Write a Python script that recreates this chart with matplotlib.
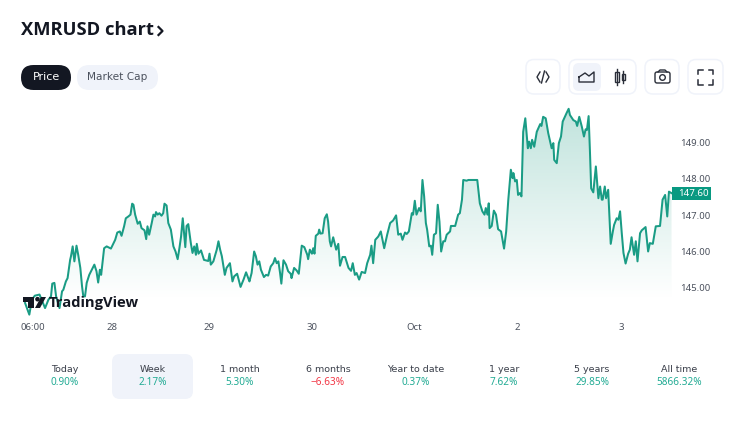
import numpy as np
import matplotlib
matplotlib.use("Agg")
import matplotlib.pyplot as plt
from matplotlib.colors import LinearSegmentedColormap
from matplotlib.patches import FancyBboxPatch, Polygon, Rectangle, Circle

# hours along the chart and XMR price
hours = [
    5.9, 6.9, 7.5, 8.2, 9.3, 9.8, 10.6, 11.4, 12.0, 12.3,
    12.8, 13.2, 14.0, 14.6, 14.9, 15.5, 15.9, 16.5, 16.7, 17.1,
    17.5, 18.0, 18.4, 18.9, 19.3, 19.6, 20.0, 20.4, 21.0, 21.6,
    22.2, 22.7, 23.1, 23.5, 23.8, 24.5, 25.1, 26.1, 27.1, 27.6,
    28.2, 28.6, 29.2, 29.6, 30.2, 30.7, 31.1, 31.4, 31.8, 32.4,
    32.9, 33.3, 34.0, 34.4, 34.7, 35.1, 35.7, 36.1, 36.5, 36.7,
    37.1, 37.5, 38.0, 38.4, 38.7, 39.2, 39.6, 40.2, 40.8, 41.3,
    41.8, 42.2, 42.6, 43.0, 43.3, 43.6, 43.9, 44.3, 44.9, 45.3,
    45.7, 46.1, 46.3, 46.7, 47.3, 48.0, 49.0, 49.3, 49.6, 50.2,
    51.0, 51.4, 51.8, 52.2, 52.9, 53.3, 54.1, 54.7, 55.1, 55.8,
    56.6, 57.3, 57.9, 58.7, 58.8, 59.2, 59.8, 60.2, 60.6, 61.0,
    61.4, 62.1, 62.6, 63.1, 63.7, 64.3, 64.7, 65.1, 65.5, 65.9,
    66.2, 66.7, 67.3, 67.8, 68.4, 68.6, 69.2, 69.8, 70.3, 71.0,
    71.6, 72.3, 72.5, 72.9, 73.4, 73.7, 74.0, 74.3, 74.9, 75.1,
    75.4, 75.9, 76.4, 76.9, 77.2, 77.6, 77.9, 78.4, 79.1, 79.6,
    80.0, 80.6, 81.2, 82.0, 82.6, 83.0, 83.5, 83.9, 84.5, 85.1,
    85.9, 86.4, 87.1, 87.4, 87.8, 88.3, 89.0, 89.6, 90.0, 90.4,
    91.1, 91.8, 92.5, 93.2, 93.7, 94.3, 94.7, 95.3, 95.7, 96.2,
    96.9, 97.2, 97.6, 98.0, 98.6, 99.0, 99.4, 99.8, 100.2, 100.5,
    101.0, 101.4, 101.7, 102.1, 102.6, 103.0, 103.4, 103.8, 104.3, 104.7,
    105.1, 105.9, 106.1, 107.1, 107.8, 108.2, 108.7, 109.0, 109.8, 110.2,
    112.3, 112.9, 113.5, 114.0, 114.3, 114.7, 115.0, 115.2, 115.7, 116.2,
    116.7, 117.2, 117.9, 118.6, 119.1, 119.6, 120.2, 120.6, 120.8, 121.2,
    121.6, 121.9, 122.3, 122.7, 123.1, 123.6, 124.2, 124.5, 124.9, 125.2,
    125.7, 126.3, 127.1, 127.4, 127.8, 128.4, 129.0, 129.8, 130.2, 130.4,
    131.0, 131.5, 132.0, 132.4, 132.9, 133.3, 133.8, 134.1, 134.9, 135.5,
    135.8, 136.3, 136.9, 137.4, 137.8, 138.1, 138.5, 138.8, 139.1, 139.6,
    140.2, 140.8, 141.2, 141.6, 141.8, 142.3, 142.6, 143.1, 143.7, 144.2,
    144.5, 145.1, 145.5, 145.9, 146.3, 146.7, 147.2, 147.8, 148.2, 148.6,
    149.2, 149.6, 150.0, 150.6, 151.0, 151.9, 152.5, 152.9, 153.6, 154.3,
    155.3, 155.9, 156.5, 157.0, 157.4, 158.0,
]
prices = [
    144.59, 144.27, 144.68, 144.79, 144.82, 144.68, 144.45, 144.68, 144.77, 145.12,
    145.14, 144.77, 144.45, 144.91, 144.95, 145.18, 145.27, 145.77, 145.87, 146.14,
    145.73, 146.16, 145.91, 145.55, 145.05, 144.77, 144.77, 145.14, 145.36, 145.50,
    145.64, 145.46, 145.15, 145.50, 145.36, 146.09, 146.14, 146.08, 146.32, 146.52,
    146.55, 146.43, 146.69, 146.91, 146.96, 147.01, 147.31, 147.28, 147.01, 146.76,
    146.82, 146.64, 146.58, 146.34, 146.69, 146.46, 146.78, 147.01, 146.96, 147.08,
    147.01, 147.05, 146.98, 147.05, 147.31, 147.26, 146.78, 146.60, 146.14, 146.00,
    145.79, 146.08, 146.41, 146.91, 146.50, 146.12, 146.70, 146.75, 146.23, 145.96,
    146.14, 145.91, 146.21, 145.94, 146.03, 145.77, 145.74, 145.94, 145.64, 145.73,
    146.05, 146.28, 146.05, 145.87, 145.36, 145.55, 145.68, 145.18, 145.32, 145.39,
    145.03, 145.23, 145.43, 145.18, 145.23, 145.41, 146.00, 145.87, 145.64, 145.73,
    145.50, 145.30, 145.36, 145.34, 145.59, 145.68, 145.82, 145.68, 145.73, 145.41,
    145.12, 145.76, 145.64, 145.46, 145.39, 145.27, 145.55, 145.48, 145.39, 146.16,
    146.12, 145.91, 145.79, 146.05, 145.94, 146.09, 145.94, 146.43, 146.49, 146.60,
    146.49, 146.50, 146.91, 147.02, 146.82, 146.28, 146.14, 146.39, 146.05, 146.21,
    145.61, 145.85, 145.85, 145.55, 145.47, 145.68, 145.36, 145.41, 145.23, 145.44,
    145.41, 145.68, 145.91, 146.16, 145.68, 146.32, 146.41, 146.55, 146.32, 146.09,
    146.46, 146.78, 146.85, 146.99, 146.46, 146.49, 146.32, 146.52, 146.48, 146.55,
    147.05, 147.01, 147.39, 147.01, 147.19, 147.10, 147.96, 147.51, 146.78, 146.60,
    146.14, 146.16, 145.91, 146.46, 146.50, 147.28, 146.82, 146.00, 146.28, 146.28,
    146.46, 146.55, 146.70, 146.70, 147.01, 147.05, 147.42, 147.96, 147.94, 147.96,
    147.96, 147.32, 147.10, 147.01, 147.19, 147.01, 147.32, 146.64, 146.70, 147.12,
    147.01, 146.61, 146.55, 146.08, 146.55, 147.42, 148.24, 148.01, 148.15, 147.92,
    147.96, 147.55, 147.60, 147.51, 149.28, 149.65, 148.83, 149.01, 148.83, 149.06,
    148.87, 149.28, 149.49, 149.44, 149.69, 149.65, 149.24, 148.83, 148.97, 148.51,
    148.42, 148.97, 149.15, 149.56, 149.69, 149.79, 149.91, 149.74, 149.60, 149.56,
    149.44, 149.69, 149.42, 149.15, 149.35, 149.33, 149.71, 148.78, 147.73, 147.62,
    148.33, 147.46, 147.78, 147.42, 147.42, 147.78, 147.46, 147.69, 146.21, 146.55,
    146.73, 146.91, 146.87, 147.10, 146.50, 145.96, 145.67, 145.94, 146.05, 146.39,
    145.91, 146.28, 145.73, 146.50, 146.58, 146.67, 146.00, 146.23, 146.21, 146.69,
    146.70, 147.42, 147.55, 146.96, 147.64, 147.60,
]

time_ticks = [7.8, 26.3, 49.2, 73.4, 97.4, 121.8, 146.1]
time_labels = ["06:00", "28", "29", "30", "Oct", "2", "3"]
price_ticks = [145, 146, 147, 148, 149]
last_price = 147.60

periods = ["Today", "Week", "1 month", "6 months", "Year to date", "1 year", "5 years", "All time"]
changes = ["0.90%", "2.17%", "5.30%", "\u22126.63%", "0.37%", "7.62%", "29.85%", "5866.32%"]

GREEN = "#1a9c85"
DARK = "#131722"
GREY = "#4c525e"
PALE = "#f0f3fa"
ICON = "#2a2e39"

plt.rcParams["font.family"] = "DejaVu Sans"


def box(ax, x0, y0, x1, y1, r, fc="none", ec="none", lw=1.0):
    ax.add_patch(FancyBboxPatch((x0 + r, y0 + r), x1 - x0 - 2 * r, y1 - y0 - 2 * r,
                                boxstyle="round,pad=%g,rounding_size=%g" % (r, r),
                                fc=fc, ec=ec, lw=lw))


fig = plt.figure(figsize=(7.5, 4.22), dpi=100, facecolor="white")
W, H = 750.0, 422.0

# chart, spans px 22..672 / 105..318
ax = fig.add_axes([22 / W, 1 - 318 / H, 650 / W, 213 / H])
ax.set_xlim(22 / 4.25, 672 / 4.25)
ax.set_ylim(144.178, 150.014)
for s in ax.spines.values():
    s.set_visible(False)

cmap = LinearSegmentedColormap.from_list("fade", ["#ffffff", "#bfe3dc"])
grad = np.linspace(1, 0, 256).reshape(-1, 1)
im = ax.imshow(grad, cmap=cmap, aspect="auto", extent=[ax.get_xlim()[0], ax.get_xlim()[1], 144.75, 150.014],
               vmin=0, vmax=1, zorder=1)
area = ax.fill_between(hours, prices, 144.0, color="none", lw=0)
im.set_clip_path(area.get_paths()[0], transform=ax.transData)
ax.plot(hours, prices, color=GREEN, lw=1.45, solid_joinstyle="round", zorder=2)

ax.yaxis.tick_right()
ax.set_yticks(price_ticks)
ax.set_yticklabels(["%.2f" % p for p in price_ticks], fontsize=6.9, color=GREY, family="Noto Sans")
ax.set_xticks(time_ticks)
ax.set_xticklabels(time_labels, fontsize=6.9, color=GREY, family="Noto Sans")
ax.tick_params(length=0, axis="y", pad=6.0)
ax.tick_params(length=0, axis="x", pad=3.5)
ax.patch.set_alpha(0)

# everything around the chart, in pixels of the picture
ui = fig.add_axes([0, 0, 1, 1], zorder=5)
ui.set_xlim(0, W)
ui.set_ylim(H, 0)
ui.axis("off")

ui.text(21, 30, "XMRUSD chart", fontsize=13.2, fontweight="bold", color=DARK, va="center", ha="left",
        family="Open Sans")
ui.plot([158.5, 162.5, 158.5], [27, 31, 35], color=DARK, lw=1.6)

box(ui, 21, 65, 71, 90, 12.5, fc=DARK)
ui.text(46, 77, "Price", fontsize=8.0, color="white", ha="center", va="center")
box(ui, 77, 65, 158, 90, 12.5, fc=PALE)
ui.text(117, 77, "Market Cap", fontsize=7.6, color=GREY, ha="center", va="center")

# toolbar buttons
for x0, x1 in [(526, 560), (569, 636), (645, 679), (688, 723)]:
    box(ui, x0, 59.5, x1, 94, 8, fc="white", ec=PALE, lw=1.1)
box(ui, 573, 63, 601, 91, 6, fc=PALE)

ui.plot([540, 537, 540], [72, 77, 82], color=ICON, lw=1)
ui.plot([546, 549, 546], [72, 77, 82], color=ICON, lw=1)
ui.plot([541.5, 544.5], [83, 71], color=ICON, lw=1)

ui.plot([579, 585, 589, 594, 594, 579, 579], [77, 73, 76, 72, 82, 82, 77], color=ICON, lw=1)

ui.add_patch(Rectangle((615, 72), 4, 10, fc="none", ec=ICON, lw=1))
ui.plot([617, 617], [69, 85], color=ICON, lw=1)
ui.add_patch(Rectangle((621.5, 74), 3, 6, fc="none", ec=ICON, lw=1))
ui.plot([623, 623], [71, 83], color=ICON, lw=1)

box(ui, 655, 72, 670, 83, 2, fc="none", ec=ICON, lw=1)
ui.plot([658, 660, 665, 667], [72, 70, 70, 72], color=ICON, lw=1)
ui.add_patch(Circle((662.5, 77.5), 2.8, fc="none", ec=ICON, lw=1))

for sx, sy in [(1, 1), (-1, 1), (1, -1), (-1, -1)]:
    cx, cy = 705.5 - sx * 7.5, 77 - sy * 7.5
    ui.plot([cx, cx, cx + sx * 4.5], [cy + sy * 4.5, cy, cy], color=ICON, lw=1.1)

# TradingView logo sits on top of the line
ui.add_patch(Polygon([(23, 297), (34, 297), (34, 308), (28, 308), (28, 302), (23, 302)], fc=DARK, ec="none"))
ui.add_patch(Circle((37.5, 299.2), 2.3, fc=DARK, ec="none"))
ui.add_patch(Polygon([(41, 297), (46, 297), (40, 308), (35, 308)], fc=DARK, ec="none"))
ui.text(49, 303.5, "TradingView", fontsize=10.6, fontweight="bold", color=DARK, va="center", ha="left",
        family="Open Sans")

# last price tag
ui.add_patch(Rectangle((672, 187), 38.5, 12.5, fc="#089981", ec="none"))
ui.text(693.5, 193.2, "%.2f" % last_price, fontsize=7.0, color="white", ha="center", va="center",
        fontweight="bold", family="Noto Sans")

# period strip
centres = [65, 153, 240, 328, 416, 504, 592, 679]
box(ui, 112, 354, 193, 399, 8, fc=PALE)
for cx, p, c in zip(centres, periods, changes):
    ui.text(cx, 369.5, p, fontsize=6.8, color="#3a3f4a", ha="center", va="center")
    col = "#f23645" if c.startswith("\u2212") else "#22ab94"
    ui.text(cx, 382.5, c, fontsize=7.2, color=col, ha="center", va="center", family="Noto Sans")

fig.savefig("out.png", dpi=100)
